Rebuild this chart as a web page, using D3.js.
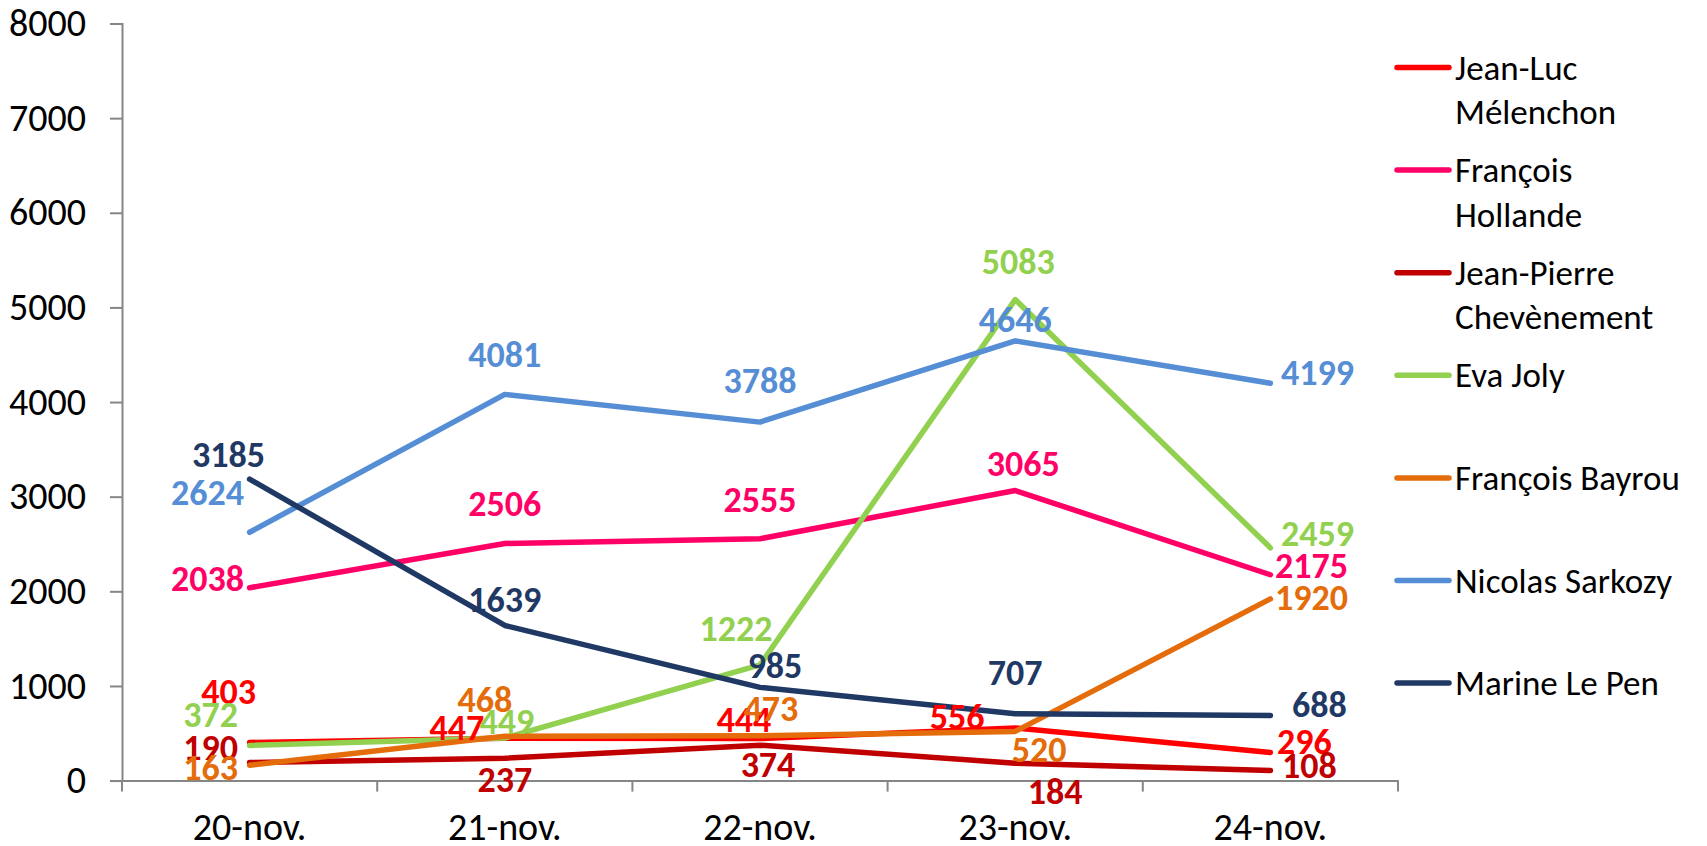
<!DOCTYPE html>
<html>
<head>
<meta charset="utf-8">
<script src="https://cdn.jsdelivr.net/npm/d3@7"></script>
<style>
  html, body { margin: 0; padding: 0; background: #fff; }
  svg text { font-family: Carlito, Calibri, Lato, "Open Sans", sans-serif; }
</style>
</head>
<body>
<svg id="chart"></svg>
<script>
// --- Data ---
const dates = ["20-nov.", "21-nov.", "22-nov.", "23-nov.", "24-nov."];
const names = ["Jean-Luc Mélenchon", "François Hollande", "Jean-Pierre Chevènement",
               "Eva Joly", "François Bayrou", "Nicolas Sarkozy", "Marine Le Pen"];
const legendLines = [["Jean-Luc", "Mélenchon"], ["François", "Hollande"], ["Jean-Pierre", "Chevènement"],
                     ["Eva Joly"], ["François Bayrou"], ["Nicolas Sarkozy"], ["Marine Le Pen"]];
const melenchon   = [403, 447, 444, 556, 296];
const hollande    = [2038, 2506, 2555, 3065, 2175];
const chevenement = [190, 237, 374, 184, 108];
const joly        = [372, 449, 1222, 5083, 2459];
const bayrou      = [163, 468, 473, 520, 1920];
const sarkozy     = [2624, 4081, 3788, 4646, 4199];
const lepen       = [3185, 1639, 985, 707, 688];
const yTicks = [0, 1000, 2000, 3000, 4000, 5000, 6000, 7000, 8000];

const seriesValues = [melenchon, hollande, chevenement, joly, bayrou, sarkozy, lepen];
const colors = ["#FF0000", "#FF0066", "#C00000", "#92D050", "#E46C0A", "#558ED5", "#1F3864"];

// data label offsets (px, from the point) — hand placed like in the original sheet
const labelOffsets = [
  [[-21, -50], [-48, -10], [-16, -19], [-58, -11], [34, -11]],
  [[-42, -9], [0, -39], [0, -39], [8, -27], [41, -9]],
  [[-39, -15], [0, 22], [8, 20], [40, 29], [39, -4]],
  [[-39, -30], [2, -16], [-24, -36], [3, -38], [47, -14]],
  [[-39, 3], [-20, -36], [11, -27], [24, 19], [41, -1]],
  [[-42, -39], [0, -39], [0, -41], [0, -21], [47, -10]],
  [[-21, -24], [0, -25], [15, -21], [0, -41], [49, -10]]
];

// --- Setup ---
const width = 1707, height = 846;
const svg = d3.select("#chart").attr("width", width).attr("height", height);

const x = d3.scaleBand().domain(dates).range([122, 1398]);
const y = d3.scaleLinear().domain([0, 8000]).range([780.6, 23.5]);
const cx = d => x(d) + x.bandwidth() / 2;

// --- Axes ---
const yAxis = svg.append("g")
    .attr("transform", "translate(122,0)")
    .call(d3.axisLeft(y).tickValues(yTicks).tickSize(12).tickPadding(24).tickFormat(d3.format("d")));
yAxis.selectAll("text").attr("font-size", 38).attr("fill", "#000");

const xAxis = svg.append("g")
    .attr("transform", `translate(0,${y(0)})`)
    .call(d3.axisBottom(x).tickSize(0).tickPadding(32));
xAxis.selectAll("text").attr("font-size", 38).attr("fill", "#000");

// category boundary ticks
xAxis.selectAll("line.bound")
  .data(d3.range(dates.length + 1))
  .enter().append("line")
    .attr("class", "bound")
    .attr("x1", i => 122 + i * x.bandwidth())
    .attr("x2", i => 122 + i * x.bandwidth())
    .attr("y1", 0).attr("y2", 11);

svg.selectAll(".domain, .tick line, line.bound")
    .attr("stroke", "#868686").attr("stroke-width", 2);

// --- Lines ---
const line = d3.line()
    .x((d, i) => cx(dates[i]))
    .y(d => y(d));

svg.append("g").selectAll("path")
  .data(seriesValues)
  .enter().append("path")
    .attr("d", line)
    .attr("fill", "none")
    .attr("stroke", (d, i) => colors[i])
    .attr("stroke-width", 5.5)
    .attr("stroke-linejoin", "round")
    .attr("stroke-linecap", "round");

// --- Data labels ---
seriesValues.forEach((vals, s) => {
  svg.append("g").selectAll("text")
    .data(vals)
    .enter().append("text")
      .attr("x", (d, i) => cx(dates[i]) + labelOffsets[s][i][0])
      .attr("y", (d, i) => y(d) + labelOffsets[s][i][1])
      .attr("text-anchor", "middle")
      .attr("dominant-baseline", "central")
      .attr("font-size", 36)
      .attr("font-weight", "bold")
      .attr("fill", colors[s])
      .text(d => d);
});

// --- Legend ---
const legend = svg.append("g").selectAll("g")
  .data(names)
  .enter().append("g")
    .attr("transform", (d, i) => `translate(1397,${67.5 + i * 102.6})`);

legend.append("line")
    .attr("x1", 0).attr("x2", 52)
    .attr("stroke", (d, i) => colors[i])
    .attr("stroke-width", 5.5)
    .attr("stroke-linecap", "round");

legend.append("text")
    .attr("x", 58)
    .attr("font-size", 35)
    .attr("fill", "#000")
    .selectAll("tspan")
    .data((d, i) => legendLines[i])
    .enter().append("tspan")
      .attr("x", 58)
      .attr("y", (d, j) => j * 44.6)
      .attr("dominant-baseline", "central")
      .text(d => d);
</script>
</body>
</html>
